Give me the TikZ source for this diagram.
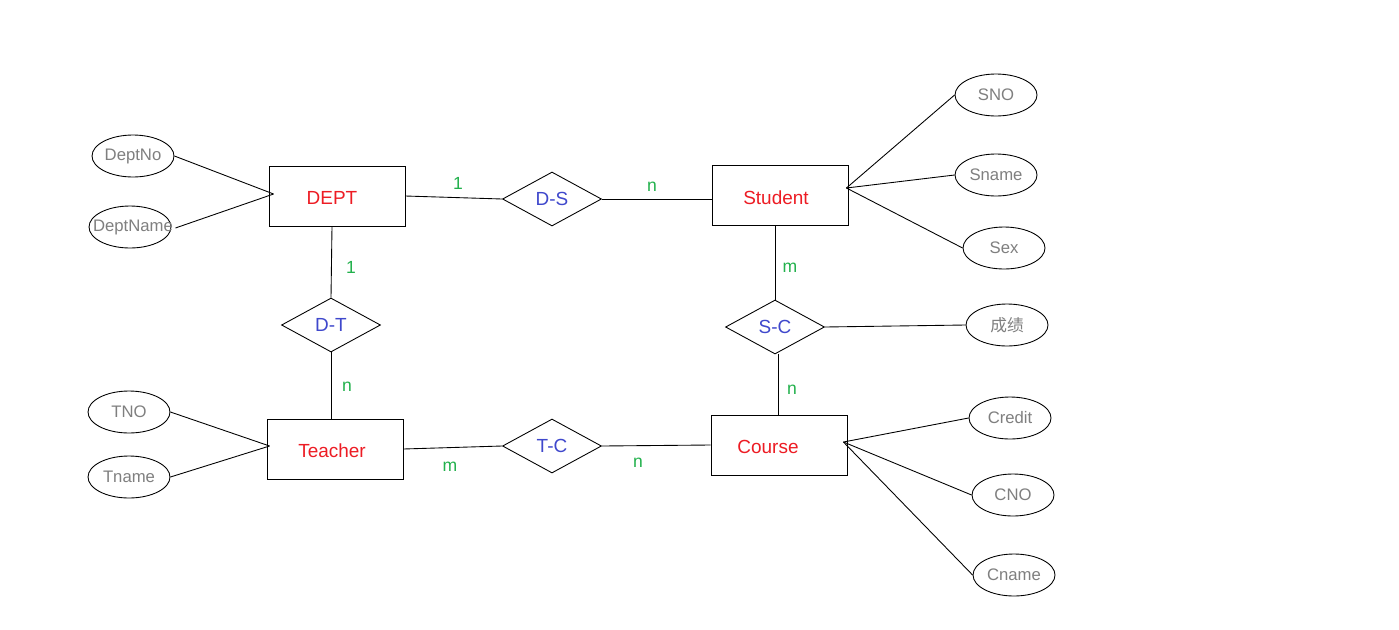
\documentclass[tikz,border=0pt]{standalone}
\usepackage{fontspec}
\setmainfont{Liberation Sans}
\newfontfamily\cjk{Noto Sans CJK SC}
\usetikzlibrary{shapes.geometric}
\definecolor{entred}{RGB}{237,28,36}
\definecolor{relblue}{RGB}{63,72,204}
\definecolor{cardgreen}{RGB}{34,177,76}
\definecolor{attrgray}{RGB}{127,127,127}
\newlength{\pxu}\setlength{\pxu}{0.02cm}
\begin{document}
\begin{tikzpicture}[x=0.02cm,y=-0.02cm,
 conn/.style={line width=0.5pt, black},
 entity/.style={draw, line width=0.5pt, rectangle, minimum width=2.72cm, minimum height=1.2cm, inner sep=0pt},
 enttext/.style={text=entred, font=\fontsize{10.8}{12}\selectfont, inner sep=0pt},
 rel/.style={draw, line width=0.5pt, diamond, minimum width=1.98cm, minimum height=1.08cm, inner sep=0pt, aspect=1.83, text=relblue, font=\fontsize{10.8}{12}\selectfont},
 attr/.style={draw, line width=0.5pt, ellipse, minimum width=1.64cm, minimum height=0.84cm, inner sep=0pt, text=attrgray, font=\fontsize{9.5}{11}\selectfont},
 attrtext/.style={text=attrgray, font=\fontsize{9.5}{11}\selectfont, inner sep=0pt},
 card/.style={text=cardgreen, font=\fontsize{10}{12}\selectfont, inner sep=0pt}]
\fill[white] (0,0) rectangle (1399,629);
\useasboundingbox (0,0) rectangle (1399,629);

% entities
\node[entity, label={[enttext, xshift=-5\pxu, yshift=-2\pxu]center:DEPT}] (dept) at (337,196) {};
\node[entity, label={[enttext, xshift=-4\pxu, yshift=-3\pxu]center:Student}] (student) at (780,195) {};
\node[entity, label={[enttext, xshift=-3\pxu, yshift=-2\pxu]center:Teacher}] (teacher) at (335,449) {};
\node[entity, label={[enttext, xshift=-11\pxu, yshift=-2\pxu]center:Course}] (course) at (779,445) {};

% relationships
\node[rel] (ds) at (552,199) {D-S};
\node[rel] (dt) at (331,325) {D-T};
\node[rel] (sc) at (775,327) {S-C};
\node[rel] (tc) at (552,446) {T-C};

% attributes
\node[attr] (deptno) at (133,156) {DeptNo};
\node[attr, label={[attrtext, xshift=3\pxu]center:DeptName}] (deptname) at (130,227) {};
\node[attr] (sno) at (996,95) {SNO};
\node[attr] (sname) at (996,175) {Sname};
\node[attr] (sex) at (1004,248) {Sex};
\node[attr] (cj) at (1007,325) {\cjk 成绩};
\node[attr] (credit) at (1010,418) {Credit};
\node[attr] (cno) at (1013,495) {CNO};
\node[attr] (cname) at (1014,575) {Cname};
\node[attr] (tno) at (129,412) {TNO};
\node[attr] (tname) at (129,477) {Tname};

% attribute connectors
\draw[conn] (deptno.east) -- ([shift={(5,-2)}]dept.west);
\draw[conn] ([shift={(4,1)}]deptname.east) -- ([shift={(5,-2)}]dept.west);
\draw[conn] (sno.west) -- ([shift={(-2,-7)}]student.east);
\draw[conn] (sname.west) -- ([shift={(-2,-7)}]student.east);
\draw[conn] (sex.west) -- ([shift={(-2,-7)}]student.east);
\draw[conn] (credit.west) -- ([shift={(-4,-3)}]course.east);
\draw[conn] (cno.west) -- ([shift={(-4,-3)}]course.east);
\draw[conn] (cname.west) -- ([shift={(-4,-3)}]course.east);
\draw[conn] (tno.east) -- ([shift={(3,-3)}]teacher.west);
\draw[conn] (tname.east) -- ([shift={(3,-3)}]teacher.west);
\draw[conn] (sc.east) -- (cj.west);

% relationship connectors
\draw[conn] (dept.east) -- (ds.west);
\draw[conn] (ds.east) -- (ds.east -| student.west);
\draw[conn] ([shift={(-5,0)}]dept.south) -- (dt.north);
\draw[conn] (dt.south) -- (dt.south |- teacher.north);
\draw[conn] (teacher.east) -- (tc.west);
\draw[conn] (tc.east) -- (course.west);
\draw[conn] (sc.north |- student.south) -- (sc.north);
\draw[conn] ([shift={(3,0)}]sc.south) -- ([shift={(3,0)}]sc.south |- course.north);

% cardinalities
\node[card] (c1) at (458,183) {1};
\node[card] (c2) at (652,187) {n};
\node[card] (c3) at (351,267) {1};
\node[card] (c4) at (347,387) {n};
\node[card] (c5) at (790,268) {m};
\node[card] (c6) at (792,390) {n};
\node[card] (c7) at (450,467) {m};
\node[card] (c8) at (638,463) {n};
\end{tikzpicture}
\end{document}
